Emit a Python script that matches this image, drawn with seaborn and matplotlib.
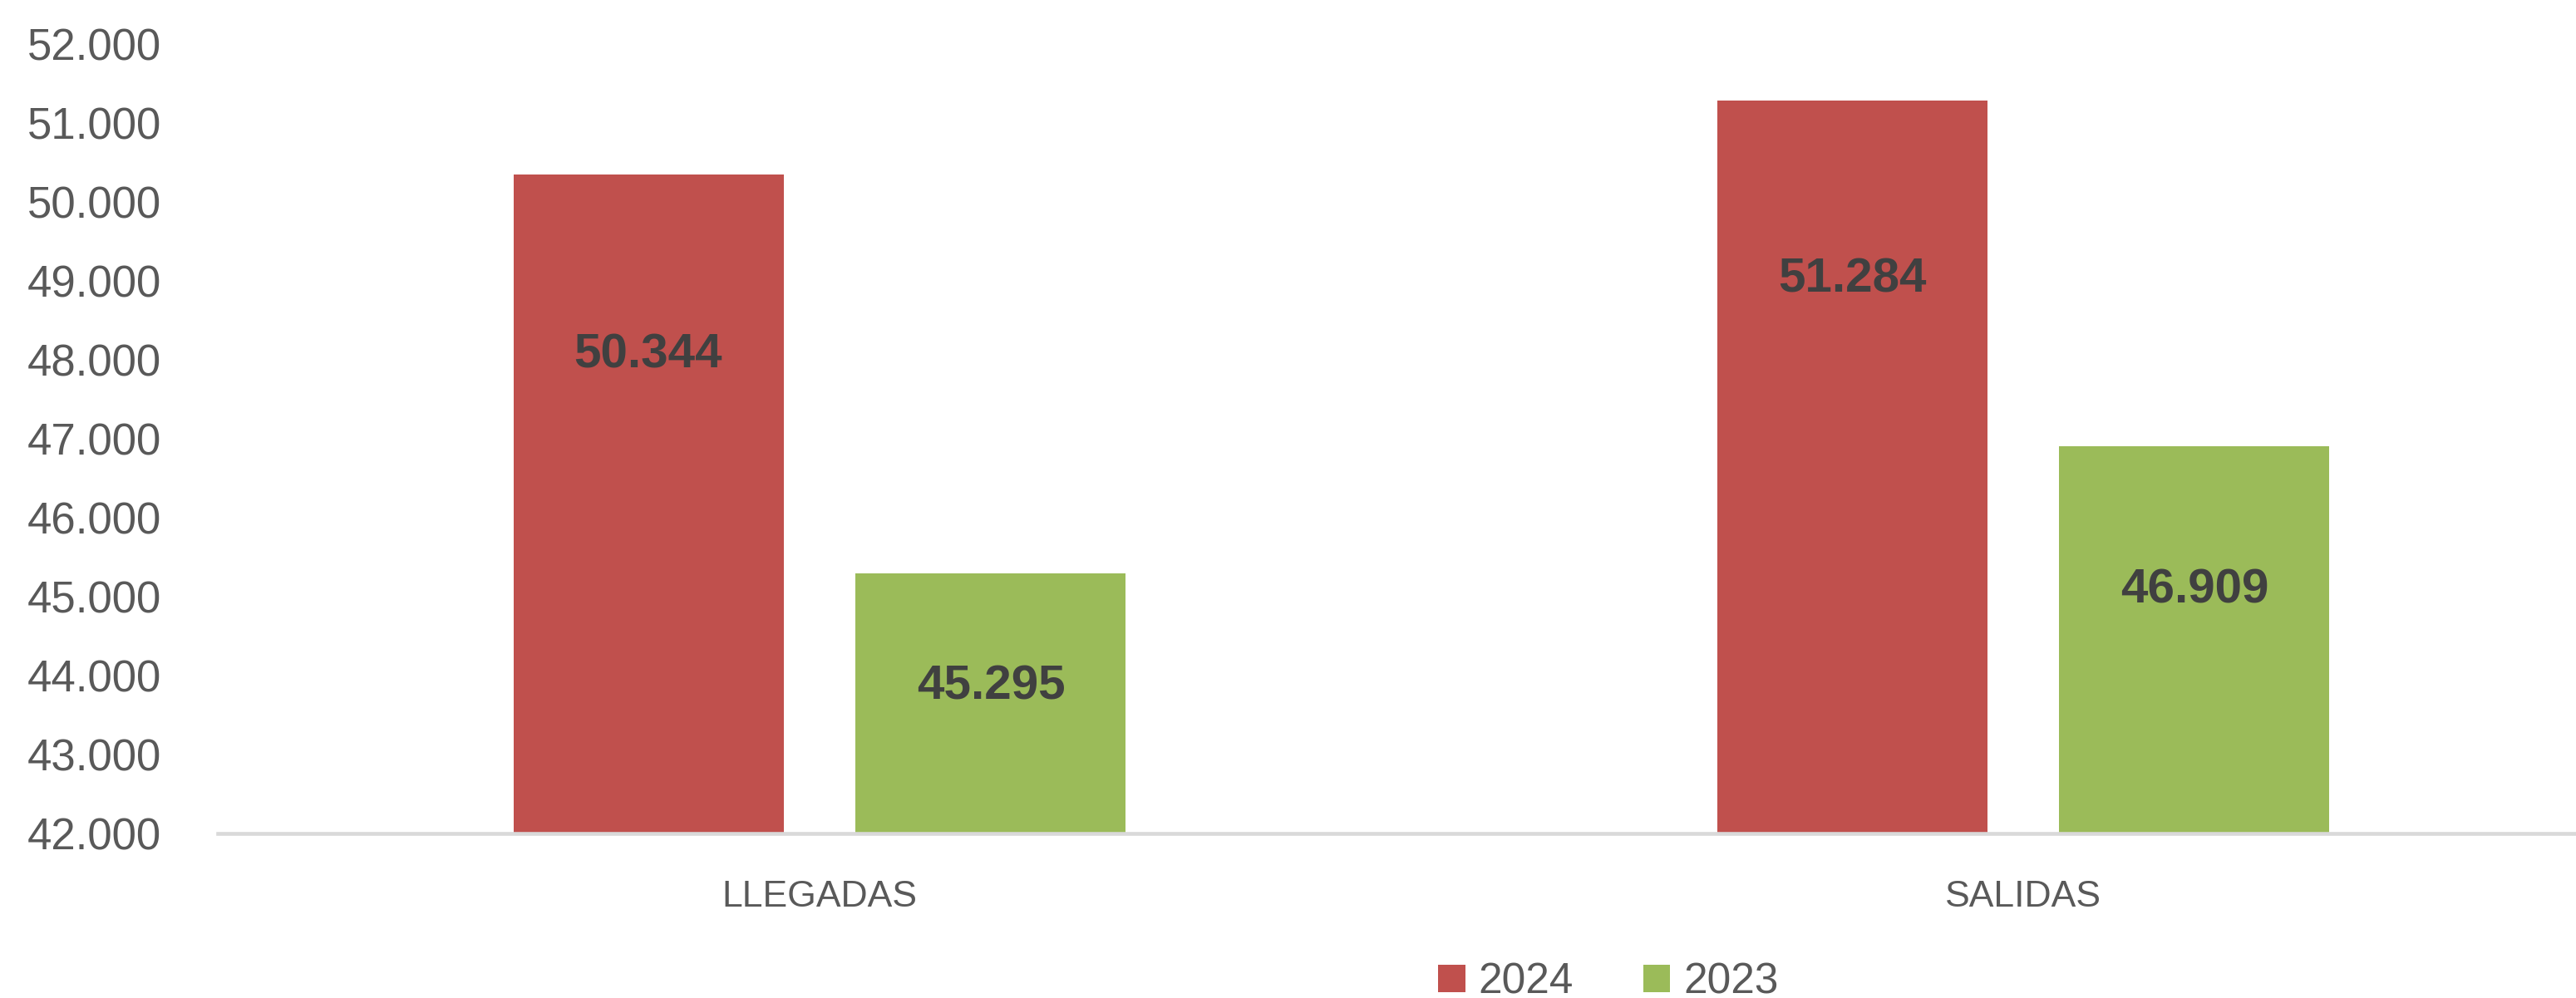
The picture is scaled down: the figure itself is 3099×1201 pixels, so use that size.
import matplotlib
matplotlib.use("Agg")
import matplotlib.pyplot as plt
import matplotlib.patches as mpatches
from matplotlib.ticker import FuncFormatter, MultipleLocator
import seaborn as sns
import pandas as pd

# ---- data ----
categories = ["LLEGADAS", "SALIDAS"]
years = ["2024", "2023"]
values_2024 = [50344, 51284]
values_2023 = [45295, 46909]
# vertical positions (data units) of the value labels as seen in the reference
label_pos_2024 = [48063, 49021]
label_pos_2023 = [43863, 45074]
colors = {"2024": "#C0504D", "2023": "#9BBB59"}

df = pd.DataFrame({
    "tipo": categories * 2,
    "year": ["2024"] * len(categories) + ["2023"] * len(categories),
    "valor": values_2024 + values_2023,
})

sns.set_theme(style="white")
plt.rcParams["font.family"] = ["Liberation Sans", "DejaVu Sans"]

W, H, DPI = 3099, 1201, 100
fig = plt.figure(figsize=(W / DPI, H / DPI), dpi=DPI)
ax = fig.add_axes([262 / W, (H - 1003) / H, 2896 / W, 950 / H])

sns.barplot(data=df, x="tipo", y="valor", hue="year", hue_order=years,
            order=categories, palette=colors, width=0.569, gap=0.211,
            saturation=1, linewidth=0, edgecolor="none", ax=ax, legend=False)

ax.set_ylim(42000, 52000)
ax.set_xlim(-0.5, 1.5)
ax.yaxis.set_major_locator(MultipleLocator(1000))
ax.yaxis.set_major_formatter(FuncFormatter(lambda v, p: f"{int(v):,}".replace(",", ".")))
ax.set_xlabel("")
ax.set_ylabel("")

for s in ["left", "top", "right"]:
    ax.spines[s].set_visible(False)
ax.spines["bottom"].set_color("#D9D9D9")
ax.spines["bottom"].set_linewidth(3.3)
ax.spines["bottom"].set_clip_on(False)

ax.tick_params(axis="y", length=0, pad=49, labelsize=38, labelcolor="#595959")
ax.tick_params(axis="x", length=0, pad=40, labelsize=32, labelcolor="#595959")
ax.grid(False)

label_positions = {"2024": label_pos_2024, "2023": label_pos_2023}
value_map = {"2024": values_2024, "2023": values_2023}
for cont, yr in zip(ax.containers, years):
    for bar, val, ypos in zip(cont, value_map[yr], label_positions[yr]):
        xc = bar.get_x() + bar.get_width() / 2
        ax.text(xc, ypos, f"{val:,}".replace(",", "."), ha="center", va="center",
                fontsize=42, fontweight="bold", color="#404040")

handles = [mpatches.Patch(facecolor=colors[y], edgecolor="none", label=y) for y in years]
fig.legend(handles=handles, loc="center", bbox_to_anchor=(1935 / W, (H - 1182) / H),
           ncol=2, frameon=False, fontsize=37, labelcolor="#595959",
           handlelength=0.63, handleheight=0.63, handletextpad=0.31,
           columnspacing=1.63, borderpad=0)

fig.savefig("out.png", dpi=DPI)
